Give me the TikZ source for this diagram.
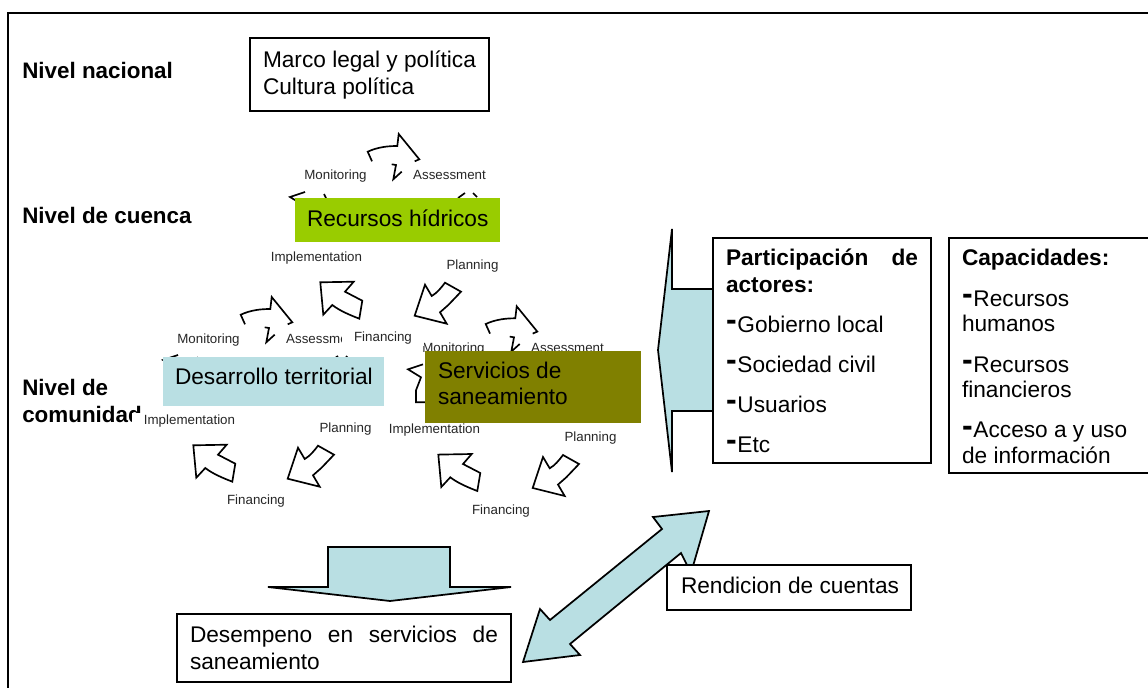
\documentclass[tikz,border=0pt]{standalone}
\usepackage{fontspec}
\setmainfont{Liberation Sans}
\definecolor{paleblue}{HTML}{B9DFE3}
\definecolor{leaf}{HTML}{99CC00}
\definecolor{olivebox}{HTML}{808000}
\newcommand{\bigtxt}{\fontsize{17}{20}\selectfont}
\newcommand{\boldtxt}{\fontsize{16.8}{20.5}\selectfont\bfseries}
\newcommand{\smalltxt}{\fontsize{10}{12}\selectfont}
\newcommand{\dsh}{\smash{\raisebox{1pt}{\fontsize{24}{24}\selectfont\bfseries -}}\kern.6pt}
\newcommand{\jline}[2]{\makebox[\dimexpr#1pt*3/4\relax][l]{#2}}
\tikzset{
  frameline/.style={line width=1.5pt,black},
  cyc/.style={line width=1.25pt,black,line join=miter},
  lab/.style={font=\smalltxt,text=black!85,inner sep=0pt,anchor=base},
  masklab/.style={lab,fill=white,inner xsep=9pt,inner ysep=1.5pt},
  level/.style={font=\boldtxt,align=flush left,anchor=base west,inner sep=0pt,text width=170pt},
  textbox/.style n args={4}{anchor=north west,font=\bigtxt,align=flush left,outer sep=0pt,inner ysep=0pt,
    inner xsep=#2*0.75pt,text width=(#1-2*#2)*0.75pt,text height=#3*0.75pt,text depth=(#4-#3)*0.75pt},
  panel/.style={draw=black,line width=1.5pt,fill=white},
  block/.style={draw=black,line width=1.3pt,fill=paleblue,line join=miter}
}
\newcommand{\cyclegroup}[3]{%
\begin{scope}[shift={(#2,#3)}]
  \draw[cyc] (372,161.3) -- (367.7,151.7) .. controls (378,147) and (388,146) .. (397.3,146) -- (398.7,134) -- (419.3,159.3) -- (414.7,161.3);
  \draw[cyc] (391.7,164.3) -- (396,165) -- (393.3,179.3) -- (401.7,171.7);
  \draw[cyc] (305,192) -- (290,197) -- (303,205) -- (298,218) -- (298,230) -- (307,230);
  \draw[cyc] (324,194) -- (326,198);
  \draw[cyc] (458,198) -- (465,193);
  \draw[cyc] (473,193) -- (477,197);
  \draw[cyc] (320.3,282.3) -- (353.7,281.7) -- (345,291.7) -- (362.3,300.7) -- (359.3,318.7) .. controls (350,315) and (340,311) .. (332.3,305) -- (323.3,314.7) -- cycle;
  \draw[cyc] (425,284.7) -- (431.7,296) .. controls (437,293) and (441,288) .. (445,282.7) -- (461,291.7) -- (448.3,305) -- (440,312.3) -- (446.7,323.7) -- (414.7,315.7) -- cycle;
  \node[lab] (#1mon) at (335.5,180) {Monitoring};
  \node[lab] (#1ass) at (449.5,180) {Assessment};
  \node[masklab] (#1imp) at (316.5,261.3) {Implementation};
  \node[lab] (#1pla) at (472.5,269.5) {Planning};
  \node[masklab] (#1fin) at (383,341.7) {Financing};
\end{scope}}
\begin{document}
\begin{tikzpicture}[x=0.75pt,y=-0.75pt]
\useasboundingbox (0,0) rectangle (1148,688);
\draw[frameline] (1160,13) -- (8,13) -- (8,700);
\node[level] (nnac) at (22,78.6) {Nivel nacional};
\node[level] (ncue) at (22,223.4) {Nivel de cuenca};
\node[level] (ncom) at (22,395) {Nivel de\\comunidad};
\cyclegroup{b}{-127}{163}
\cyclegroup{c}{118}{172.3}
\cyclegroup{a}{0}{0}
\node[textbox={239}{13}{29.4}{73},panel] (marco) at (250,38) {\mbox{Marco legal y política}\\Cultura política};
\node[textbox={205}{12}{28.4}{44},fill=leaf] (rec) at (295,198) {\mbox{Recursos hídricos}};
\node[textbox={221}{12}{27.8}{49},fill=paleblue] (des) at (163,357) {\mbox{Desarrollo territorial}};
\node[textbox={216}{13}{27.2}{72},fill=olivebox] (ser) at (425,351) {Servicios de\\saneamiento};
\draw[block] (713,289) -- (672,289) -- (672,229) -- (658,350) -- (672,472) -- (672,411) -- (713,411);
\node[textbox={218}{13}{27.5}{225},panel] (par) at (713,238) {\textbf{\jline{192}{Participación\hfill de}}\\\textbf{actores:}\\[10pt]\dsh Gobierno local\\[10pt]\dsh Sociedad civil\\[10pt]\dsh Usuarios\\[10pt]\dsh Etc};
\node[textbox={212}{13}{27.7}{235},panel] (cap) at (949,238) {\textbf{Capacidades:}\\[10.4pt]\dsh Recursos\\[-1pt]humanos\\[10.4pt]\dsh Recursos\\[-1pt]financieros\\[10.4pt]\dsh Acceso a y uso\\[-1pt]de información};
\draw[block] (328,587) -- (328,547) -- (450,547) -- (450,587) -- (511,587) -- (390,601) -- (268,587) -- cycle;
\draw[block] (709,511) -- (653,517) -- (662,529) -- (550,620) -- (540,609) -- (523,662) -- (580,655) -- (570,644) -- (681,553) -- (691,573) -- cycle;
\node[textbox={244}{14}{28.4}{45},panel] (ren) at (667,565) {\mbox{Rendicion de cuentas}};
\node[textbox={334}{13}{28.4}{68},panel] (dsm) at (177,614) {\jline{308}{Desempeno\hfill en\hfill servicios\hfill de}\\saneamiento};
\end{tikzpicture}
\end{document}
